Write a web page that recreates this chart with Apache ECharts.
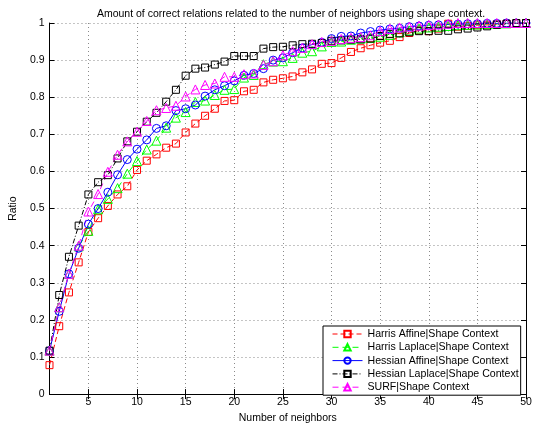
<!DOCTYPE html>
<html>
<head>
<meta charset="utf-8">
<script src="https://cdn.jsdelivr.net/npm/echarts@6/dist/echarts.min.js"></script>
<style>
  html, body { margin: 0; padding: 0; background: #fff; }
  #main { width: 542px; height: 429px; }
</style>
</head>
<body>
<div id="main"></div>
<script>
const neighbors = [1, 2, 3, 4, 5, 6, 7, 8, 9, 10, 11, 12, 13, 14, 15, 16, 17, 18, 19, 20,
  21, 22, 23, 24, 25, 26, 27, 28, 29, 30, 31, 32, 33, 34, 35, 36, 37, 38, 39, 40,
  41, 42, 43, 44, 45, 46, 47, 48, 49, 50];

const harrisAffine = [0.078, 0.183, 0.274, 0.355, 0.437, 0.474, 0.507, 0.538, 0.560, 0.604,
  0.629, 0.646, 0.664, 0.675, 0.705, 0.729, 0.750, 0.769, 0.790, 0.792,
  0.816, 0.820, 0.840, 0.847, 0.851, 0.856, 0.867, 0.875, 0.890, 0.892,
  0.906, 0.922, 0.932, 0.940, 0.947, 0.952, 0.962, 0.973, 0.980, 0.978,
  0.985, 0.998, 0.990, 0.992, 0.994, 0.995, 0.997, 0.998, 0.999, 1.000];

const harrisLaplace = [0.117, 0.234, 0.324, 0.398, 0.440, 0.498, 0.526, 0.555, 0.594, 0.628,
  0.659, 0.683, 0.718, 0.745, 0.760, 0.787, 0.791, 0.806, 0.820, 0.822,
  0.853, 0.860, 0.889, 0.896, 0.897, 0.906, 0.920, 0.924, 0.937, 0.949,
  0.950, 0.955, 0.958, 0.960, 0.963, 0.968, 0.975, 0.980, 0.985, 0.988,
  0.990, 0.992, 0.994, 0.995, 0.996, 0.997, 0.998, 0.999, 1.000, 1.000];

const hessianAffine = [0.117, 0.223, 0.324, 0.393, 0.458, 0.500, 0.544, 0.591, 0.632, 0.660,
  0.685, 0.716, 0.723, 0.764, 0.769, 0.779, 0.803, 0.820, 0.831, 0.844,
  0.859, 0.864, 0.877, 0.900, 0.906, 0.920, 0.933, 0.942, 0.948, 0.958,
  0.964, 0.965, 0.973, 0.977, 0.981, 0.984, 0.986, 0.990, 0.992, 0.994,
  0.995, 0.996, 0.997, 0.998, 0.998, 0.999, 0.999, 1.000, 1.000, 1.000];

const hessianLaplace = [0.117, 0.267, 0.370, 0.454, 0.538, 0.571, 0.590, 0.635, 0.681, 0.707,
  0.734, 0.758, 0.788, 0.820, 0.858, 0.877, 0.880, 0.888, 0.896, 0.911,
  0.911, 0.911, 0.931, 0.935, 0.936, 0.940, 0.943, 0.944, 0.946, 0.952,
  0.953, 0.955, 0.956, 0.958, 0.965, 0.970, 0.972, 0.975, 0.978, 0.978,
  0.979, 0.979, 0.983, 0.985, 0.988, 0.991, 0.995, 0.998, 1.000, 1.000];

const surf = [0.117, 0.234, 0.324, 0.400, 0.492, 0.539, 0.599, 0.645, 0.681, 0.707,
  0.736, 0.765, 0.771, 0.777, 0.802, 0.821, 0.833, 0.837, 0.855, 0.855,
  0.862, 0.864, 0.887, 0.897, 0.913, 0.924, 0.933, 0.943, 0.949, 0.952,
  0.957, 0.960, 0.962, 0.967, 0.978, 0.984, 0.988, 0.990, 0.993, 0.995,
  0.996, 0.998, 1.000, 1.000, 1.000, 1.000, 1.000, 1.000, 1.000, 1.000];

const xTicks = [5, 10, 15, 20, 25, 30, 35, 40, 45, 50];

const font = 'Liberation Sans, Arial, Helvetica, sans-serif';

function pairs(vals) {
  return neighbors.map((n, i) => [n, vals[i]]);
}

function makeSeries(name, vals, color, symbol, size, dash) {
  return {
    name: name,
    type: 'line',
    data: pairs(vals),
    symbol: symbol,
    symbolSize: size,
    showAllSymbol: true,
    lineStyle: { color: color, width: 1, type: dash },
    itemStyle: { color: 'rgba(255,255,255,0)', borderColor: color, borderWidth: 1 },
    emphasis: { disabled: true },
    animation: false,
  };
}

const chart = echarts.init(document.getElementById('main'), null, { renderer: 'canvas' });

const gridDots = { color: '#8a8a8a', type: [1, 3], width: 1 };

const option = {
  backgroundColor: '#fff',
  textStyle: { fontFamily: font },
  title: {
    text: 'Amount of correct relations related to the number of neighbors using shape context.',
    left: 286,
    textAlign: 'center',
    top: 4,
    textStyle: { fontSize: 10.5, fontWeight: 'normal', color: '#000', fontFamily: font },
  },
  grid: { left: 49, right: 16, top: 23, bottom: 29 },
  legend: {
    orient: 'vertical',
    left: 323,
    top: 326,
    backgroundColor: '#fff',
    borderColor: '#000',
    borderWidth: 1,
    borderRadius: 0,
    padding: [2, 2, 2, 9],
    itemWidth: 30,
    itemHeight: 8,
    itemGap: 1.3,
    lineStyle: { width: 1 },
    textStyle: { fontSize: 10.6, color: '#000', fontFamily: font, lineHeight: 12 },
    data: [
      'Harris Affine|Shape Context',
      'Harris Laplace|Shape Context',
      'Hessian Affine|Shape Context',
      'Hessian Laplace|Shape Context',
      'SURF|Shape Context',
    ],
  },
  xAxis: [{
    type: 'value',
    min: 1,
    max: 50,
    name: 'Number of neighbors',
    nameLocation: 'middle',
    nameGap: 18,
    nameTextStyle: { fontSize: 10.5, color: '#000', fontFamily: font },
    axisLine: { lineStyle: { color: '#000', width: 1 } },
    axisTick: { inside: true, length: 5, lineStyle: { color: '#000' }, customValues: xTicks },
    axisLabel: { fontSize: 10.5, color: '#000', margin: 3, customValues: xTicks },
    splitLine: { show: true, lineStyle: gridDots },
  }, {
    type: 'value',
    position: 'top',
    min: 1,
    max: 50,
    axisLine: { lineStyle: { color: '#000', width: 1 } },
    axisTick: { inside: true, length: 5, lineStyle: { color: '#000' }, customValues: xTicks },
    axisLabel: { show: false },
    splitLine: { show: false },
  }],
  yAxis: [{
    type: 'value',
    min: 0,
    max: 1,
    interval: 0.1,
    name: 'Ratio',
    nameLocation: 'middle',
    nameGap: 28,
    nameRotate: 90,
    nameTextStyle: { fontSize: 10.5, color: '#000', fontFamily: font },
    axisLine: { show: true, lineStyle: { color: '#000', width: 1 } },
    axisTick: { show: true, inside: true, length: 5, lineStyle: { color: '#000' } },
    axisLabel: {
      fontSize: 10.5, color: '#000', margin: 5,
      formatter: (v) => String(Math.round(v * 10) / 10),
    },
    splitLine: { show: true, lineStyle: gridDots },
  }, {
    type: 'value',
    position: 'right',
    min: 0,
    max: 1,
    interval: 0.1,
    axisLine: { show: true, lineStyle: { color: '#000', width: 1 } },
    axisTick: { show: true, inside: true, length: 5, lineStyle: { color: '#000' } },
    axisLabel: { show: false },
    splitLine: { show: false },
  }],
  series: [
    makeSeries('Harris Affine|Shape Context', harrisAffine, '#ff0000', 'rect', 7, [5, 3]),
    makeSeries('Harris Laplace|Shape Context', harrisLaplace, '#00ff00', 'triangle', 9, [6, 4]),
    makeSeries('Hessian Affine|Shape Context', hessianAffine, '#0000ff', 'circle', 8, 'solid'),
    makeSeries('Hessian Laplace|Shape Context', hessianLaplace, '#000000', 'rect', 7, [5, 2, 1, 2]),
    makeSeries('SURF|Shape Context', surf, '#ff00ff', 'triangle', 9, [6, 4]),
  ],
};

chart.setOption(option);
</script>
</body>
</html>
